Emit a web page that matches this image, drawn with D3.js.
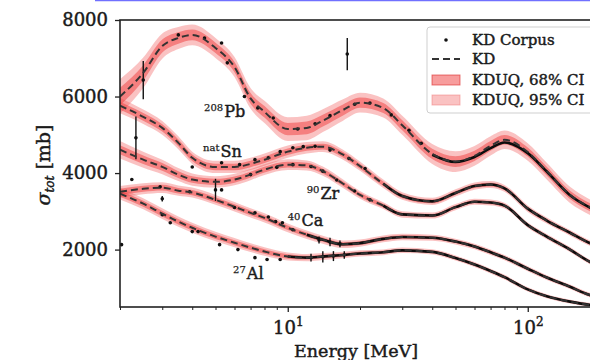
<!DOCTYPE html>
<html>
<head>
<meta charset="utf-8">
<script src="https://cdn.jsdelivr.net/npm/d3@7"></script>
<style>
  html, body { margin: 0; padding: 0; background: #fff; }
  svg { display: block; }
  text { font-family: "DejaVu Serif", "Liberation Serif", serif; fill: #1a1a1a; stroke: #1a1a1a; stroke-width: 0.45px; }
  text.header { stroke: none; }
</style>
</head>
<body>
<svg id="chart" width="590" height="360"></svg>
<script>
// Energy grid (MeV) shared by the KD curves and the KDUQ bands
const energies = [2, 2.5, 3, 3.5, 4, 5, 6, 7, 8, 10, 12, 14, 17, 20, 25, 30, 40, 50, 60, 70, 80, 100, 120, 150, 180, 200];

// KD total cross sections (mb)
const kdPb = [6000, 6620, 7320, 7530, 7610, 7270, 6770, 5950, 5600, 5150, 5180, 5370, 5650, 5840, 5700, 5250, 4500, 4300, 4450, 4710, 4870, 4550, 4050, 3430, 3120, 2980];
const kdSn = [5760, 5470, 5180, 4790, 4400, 4160, 4160, 4240, 4350, 4560, 4660, 4690, 4480, 4180, 3720, 3400, 3260, 3480, 3660, 3700, 3600, 3070, 2760, 2440, 2180, 2070];
const kdZr = [4610, 4350, 4160, 3960, 3830, 3770, 3830, 3960, 4090, 4220, 4200, 4050, 3720, 3430, 3150, 2920, 2890, 3110, 3250, 3230, 3150, 2640, 2340, 2000, 1690, 1560];
const kdCa = [3510, 3590, 3620, 3540, 3490, 3300, 3120, 2960, 2830, 2570, 2390, 2260, 2140, 2170, 2280, 2330, 2310, 2210, 2080, 1930, 1790, 1500, 1270, 1030, 820, 750];
const kdAl = [3460, 3200, 2940, 2730, 2570, 2340, 2180, 2050, 1950, 1820, 1790, 1820, 1860, 1900, 1930, 1980, 1940, 1780, 1610, 1440, 1280, 960, 780, 640, 560, 540];

// KDUQ credible-interval half widths (mb)
const ci95Pb = [450, 400, 330, 290, 270, 260, 260, 270, 290, 310, 320, 300, 280, 260, 250, 250, 260, 270, 260, 250, 240, 230, 220, 210, 200, 200];
const ci68Pb = [230, 200, 170, 150, 140, 135, 135, 140, 150, 160, 165, 155, 145, 135, 130, 130, 135, 140, 135, 130, 125, 120, 115, 110, 105, 105];
const ci95Sn = [200, 190, 180, 170, 160, 160, 160, 160, 160, 160, 150, 140, 130, 120, 110, 100, 95, 95, 95, 90, 90, 85, 80, 75, 70, 70];
const ci68Sn = [105, 100, 95, 90, 85, 85, 85, 85, 85, 85, 80, 75, 70, 65, 60, 55, 50, 50, 50, 48, 48, 45, 42, 40, 38, 38];
const ci95Zr = [230, 210, 190, 170, 160, 150, 150, 145, 140, 140, 130, 120, 110, 100, 90, 85, 80, 80, 80, 80, 75, 70, 70, 65, 60, 60];
const ci68Zr = [120, 110, 100, 90, 85, 80, 80, 76, 74, 74, 68, 63, 58, 53, 48, 45, 42, 42, 42, 42, 40, 37, 37, 34, 32, 32];
const ci95Ca = [150, 145, 140, 135, 130, 130, 125, 120, 120, 115, 110, 105, 100, 95, 90, 85, 80, 75, 72, 70, 68, 65, 62, 60, 58, 56];
const ci68Ca = [80, 77, 74, 72, 70, 70, 66, 64, 64, 61, 58, 56, 53, 50, 48, 45, 42, 40, 38, 37, 36, 34, 33, 32, 31, 30];
const ci95Al = [150, 145, 140, 135, 130, 125, 120, 115, 110, 105, 95, 90, 85, 80, 75, 72, 70, 68, 65, 62, 60, 56, 52, 50, 48, 48];
const ci68Al = [80, 77, 74, 72, 70, 66, 64, 61, 58, 56, 50, 48, 45, 42, 40, 38, 37, 36, 34, 33, 32, 30, 28, 27, 26, 26];

// KD Corpus: isolated measurements [E (MeV), sigma (mb), error (mb)]
const corpusPb = [[2.5, 6430, 500], [3.5, 7610, 0], [4.5, 7530, 0], [5.3, 7400, 0], [5.6, 6880, 0], [6.6, 6000, 0],
  [7.5, 5700, 0], [8.7, 5440, 0], [11, 5150, 0], [13, 5290, 0], [15, 5500, 0], [17.7, 7110, 420], [19, 5800, 0],
  [22, 5830, 0], [27, 5520, 0], [32, 5120, 0], [36, 4780, 0]];
const corpusSn = [[2.33, 4920, 560], [4.0, 4160, 0], [5.3, 4270, 0], [6.3, 4220, 0], [7.3, 4350, 0], [8.3, 4400, 0],
  [9.3, 4560, 0], [10.5, 4660, 0], [11.6, 4690, 0], [13, 4700, 0], [15, 4600, 0], [18, 4380, 0], [21, 4120, 0]];
const corpusZr = [[5.0, 3560, 290], [5.3, 3560, 0], [7.0, 3960, 0], [9.0, 4150, 0], [10.5, 4220, 0], [12.5, 4170, 0],
  [14, 4050, 0], [16, 3820, 0], [19, 3530, 0], [22, 3300, 0]];
const corpusCa = [[2.24, 3830, 0], [2.94, 3640, 0], [3.0, 3330, 70], [3.9, 3510, 0], [6.0, 3100, 0], [7.3, 2960, 0],
  [8.3, 2850, 0], [8.9, 2730, 0], [9.5, 2700, 0], [10.5, 2520, 0], [13.5, 2250, 90], [15, 2200, 110], [16.5, 2150, 90]];
const corpusAl = [[2.03, 2130, 0], [3.0, 2910, 0], [3.24, 2700, 0], [4.0, 2470, 0], [4.23, 2470, 0], [5.2, 2130, 0],
  [6.2, 2000, 0], [7.3, 1790, 0], [8.2, 1740, 0], [9.3, 1740, 0], [12.5, 1790, 100], [14, 1810, 150], [15.5, 1830, 130], [17.2, 1860, 100]];

// KD Corpus: densely sampled measurements [E (MeV), sigma (mb)]
const densePb = [[40, 4480], [50, 4290], [60, 4420], [70, 4650], [80, 4800], [100, 4520], [120, 4040], [150, 3420], [180, 3110], [200, 2980]];
const denseSn = [[25, 3720], [30, 3400], [40, 3260], [50, 3480], [60, 3660], [70, 3700], [80, 3600], [100, 3070], [120, 2760], [150, 2440], [180, 2180], [200, 2070]];
const denseZr = [[25, 3150], [30, 2920], [40, 2890], [50, 3110], [60, 3250], [70, 3230], [80, 3150], [100, 2640], [120, 2340], [150, 2000], [180, 1690], [200, 1560]];
const denseCa = [[12, 2390], [14, 2260], [17, 2140], [20, 2170], [25, 2280], [30, 2330], [40, 2310], [50, 2210], [60, 2080], [70, 1930], [80, 1790], [100, 1500], [120, 1270], [150, 1030], [180, 820], [200, 750]];
const denseAl = [[10, 1820], [12, 1790], [14, 1820], [17, 1860], [20, 1900], [25, 1930], [30, 1980], [40, 1940], [50, 1780], [60, 1610], [70, 1440], [80, 1280], [100, 960], [120, 780], [150, 640], [180, 560], [200, 540]];

// Nucleus labels
const massLabels = ["208", "nat", "90", "40", "27"];
const elementLabels = ["Pb", "Sn", "Zr", "Ca", "Al"];

// Axis ticks and legend entries
const yTicks = [2000, 4000, 6000, 8000];
const xMajorTicks = [10, 100];
const xMinorTicks = [2, 3, 4, 5, 6, 7, 8, 9, 20, 30, 40, 50, 60, 70, 80, 90, 200];
const legendLabels = ["KD Corpus", "KD", "KDUQ, 68% CI", "KDUQ, 95% CI"];
const headerText = "Energy Behavior of Total Cross Sections, KD vs. KDUQ";

const nuclei = [
  { kd: kdPb, c68: ci68Pb, c95: ci95Pb, corpus: corpusPb, dense: densePb },
  { kd: kdSn, c68: ci68Sn, c95: ci95Sn, corpus: corpusSn, dense: denseSn },
  { kd: kdZr, c68: ci68Zr, c95: ci95Zr, corpus: corpusZr, dense: denseZr },
  { kd: kdCa, c68: ci68Ca, c95: ci95Ca, corpus: corpusCa, dense: denseCa },
  { kd: kdAl, c68: ci68Al, c95: ci95Al, corpus: corpusAl, dense: denseAl }
];
// label anchors in data coordinates (E, sigma)
const labelAnchors = [[4.48, 5465], [4.44, 4420], [12.0, 3322], [10.0, 2617], [5.92, 1232]];

const svg = d3.select("#chart");
const W = 590, H = 360;
const plot = { left: 120, top: 20, right: 600, bottom: 307 };

const x = d3.scaleLog().domain([2, 200]).range([plot.left, plot.right]);
const y = d3.scaleLinear().domain([500, 8000]).range([plot.bottom, plot.top]);

const band68 = "rgba(240,60,60,0.5)";
const band95 = "rgba(240,80,80,0.35)";

// header link text, mostly above the frame
const hdr = svg.append("g");
hdr.append("text").attr("class", "header")
  .attr("x", 95).attr("y", -3)
  .attr("textLength", 440).attr("lengthAdjust", "spacing")
  .style("font-family", "'DejaVu Sans', sans-serif")
  .style("font-size", "20px").style("font-weight", "bold")
  .style("fill", "#1010ff")
  .text(headerText);
hdr.append("line")
  .attr("x1", 95).attr("x2", W).attr("y1", 0.6).attr("y2", 0.6)
  .attr("stroke", "#7070ff").attr("stroke-width", 1.4);

svg.append("clipPath").attr("id", "plotClip")
  .append("rect")
  .attr("x", plot.left).attr("y", plot.top)
  .attr("width", plot.right - plot.left).attr("height", plot.bottom - plot.top);

const area = svg.append("g").attr("clip-path", "url(#plotClip)");

const curve = d3.curveMonotoneX;
const bandArea = (nuc, widths) => d3.area()
  .x((d, i) => x(energies[i]))
  .y0((d, i) => y(nuc.kd[i] - widths[i]))
  .y1((d, i) => y(nuc.kd[i] + widths[i]))
  .curve(curve);

// 95% bands, then 68% bands
nuclei.forEach(n => {
  area.append("path").datum(energies).attr("d", bandArea(n, n.c95)).attr("fill", band95);
});
nuclei.forEach(n => {
  area.append("path").datum(energies).attr("d", bandArea(n, n.c68)).attr("fill", band68);
});

// dense KD Corpus measurements
const denseLine = d3.line().x(d => x(d[0])).y(d => y(d[1])).curve(curve);
nuclei.forEach(n => {
  area.append("path").datum(n.dense).attr("d", denseLine)
    .attr("fill", "none").attr("stroke", "#0d0d0d").attr("stroke-width", 2.6);
});

// isolated KD Corpus measurements with error bars
nuclei.forEach(n => {
  const g = area.append("g");
  g.selectAll("line").data(n.corpus.filter(d => d[2] > 0)).join("line")
    .attr("x1", d => x(d[0])).attr("x2", d => x(d[0]))
    .attr("y1", d => y(d[1] - d[2])).attr("y2", d => y(d[1] + d[2]))
    .attr("stroke", "#111").attr("stroke-width", 1.4);
  g.selectAll("circle").data(n.corpus).join("circle")
    .attr("cx", d => x(d[0])).attr("cy", d => y(d[1])).attr("r", 1.8)
    .attr("fill", "#111");
});

// KD dashed curves
const kdLine = (nuc) => d3.line().x((d, i) => x(energies[i])).y((d, i) => y(nuc.kd[i])).curve(curve);
nuclei.forEach(n => {
  area.append("path").datum(energies).attr("d", kdLine(n))
    .attr("fill", "none").attr("stroke", "#333").attr("stroke-width", 2)
    .attr("stroke-dasharray", "7,4");
});

// nucleus labels
nuclei.forEach((n, i) => {
  const t = svg.append("text")
    .attr("x", x(labelAnchors[i][0])).attr("y", y(labelAnchors[i][1]));
  t.append("tspan").style("font-size", "10px").style("stroke-width", "0.25px").attr("dy", -6).text(massLabels[i]);
  t.append("tspan").style("font-size", "16px").attr("dy", 6).attr("dx", 1).text(elementLabels[i]);
});

// frame
svg.append("rect")
  .attr("x", plot.left).attr("y", plot.top)
  .attr("width", plot.right - plot.left).attr("height", plot.bottom - plot.top)
  .attr("fill", "none").attr("stroke", "#222").attr("stroke-width", 1.6);

// y axis
const yAxis = svg.append("g").attr("transform", `translate(${plot.left},0)`)
  .call(d3.axisLeft(y).tickValues(yTicks).tickSize(5).tickPadding(7).tickFormat(d3.format("d")));
yAxis.select(".domain").remove();
yAxis.selectAll("line").attr("stroke", "#222").attr("stroke-width", 1.3);
yAxis.selectAll("text").style("font-size", "18px").style("font-family", "'DejaVu Serif', serif").attr("fill", "#1a1a1a");

// x axis: minor ticks
const xMinor = svg.append("g").attr("transform", `translate(0,${plot.bottom})`)
  .call(d3.axisBottom(x).tickValues(xMinorTicks).tickSize(3).tickFormat(""));
xMinor.select(".domain").remove();
xMinor.selectAll("line").attr("stroke", "#222").attr("stroke-width", 1);

// x axis: major ticks with power-of-ten labels
const xMajor = svg.append("g").attr("transform", `translate(0,${plot.bottom})`)
  .call(d3.axisBottom(x).tickValues(xMajorTicks).tickSize(5).tickPadding(8).tickFormat(""));
xMajor.select(".domain").remove();
xMajor.selectAll("line").attr("stroke", "#222").attr("stroke-width", 1.3);
xMajor.selectAll(".tick").each(function(d) {
  const t = d3.select(this).append("text")
    .attr("y", 27).attr("text-anchor", "middle").attr("fill", "#1a1a1a")
    .style("font-size", "18px").style("font-family", "'DejaVu Serif', serif");
  t.append("tspan").text("10");
  t.append("tspan").attr("dy", -8).style("font-size", "12px").text(String(Math.round(Math.log10(d))));
});

// axis titles
svg.append("text")
  .attr("x", 356).attr("y", 357).attr("text-anchor", "middle")
  .style("font-size", "17.5px")
  .text("Energy [MeV]");

const yTitle = svg.append("text")
  .attr("transform", "translate(50,165) rotate(-90)")
  .attr("text-anchor", "middle")
  .style("font-size", "19px");
yTitle.append("tspan").style("font-style", "italic").text("σ");
yTitle.append("tspan").style("font-style", "italic").style("font-size", "12px").attr("dy", 4).text("tot");
yTitle.append("tspan").attr("dy", -4).text(" [mb]");

// legend
const lg = svg.append("g");
lg.append("rect")
  .attr("x", 427).attr("y", 27).attr("width", 175).attr("height", 86).attr("rx", 3)
  .attr("fill", "rgba(255,255,255,0.85)").attr("stroke", "#cfcfcf").attr("stroke-width", 1);
const rows = [40, 59, 80, 100];
const sx = 432, sw = 28, tx = 472;
lg.append("circle").attr("cx", sx + sw / 2).attr("cy", rows[0]).attr("r", 1.8).attr("fill", "#111");
lg.append("line").attr("x1", sx).attr("x2", sx + sw).attr("y1", rows[1]).attr("y2", rows[1])
  .attr("stroke", "#333").attr("stroke-width", 2).attr("stroke-dasharray", "7,4");
lg.append("rect").attr("x", sx).attr("y", rows[2] - 5).attr("width", sw).attr("height", 10)
  .attr("fill", band68).attr("stroke", "rgba(220,40,40,0.6)").attr("stroke-width", 1);
lg.append("rect").attr("x", sx).attr("y", rows[3] - 5).attr("width", sw).attr("height", 10)
  .attr("fill", band95).attr("stroke", "rgba(240,120,120,0.5)").attr("stroke-width", 1);
legendLabels.forEach((s, i) => {
  lg.append("text").attr("x", tx).attr("y", rows[i] + 5).style("font-size", "15px").text(s);
});
</script>
</body>
</html>
